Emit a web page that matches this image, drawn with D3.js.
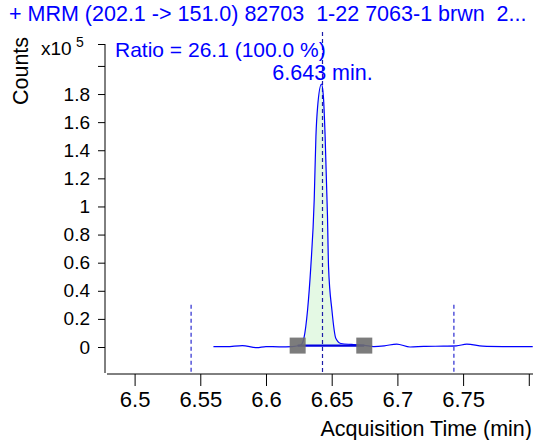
<!DOCTYPE html>
<html>
<head>
<meta charset="utf-8">
<script src="https://cdn.jsdelivr.net/npm/d3@7"></script>
<style>
  body { margin: 0; background: #fff; }
  text { font-family: "Liberation Sans", Arial, sans-serif; }
</style>
</head>
<body>
<div id="chart"></div>
<script>
// signal, counts in units of 1e5
var times  = [6.560, 6.570, 6.582, 6.593, 6.600, 6.610, 6.620, 6.6265, 6.629, 6.6316, 6.6341, 6.6367, 6.638, 6.6392,
              6.6422, 6.6437, 6.645, 6.6468, 6.6476, 6.6502, 6.6532, 6.657, 6.665, 6.675, 6.682, 6.690, 6.6995, 6.7096,
              6.720, 6.735, 6.745, 6.7528, 6.765, 6.780, 6.803];
var counts = [0.003, 0.002, 0.010, -0.005, 0.003, 0.001, 0.003, 0.014, 0.07, 0.26, 0.57, 1.05, 1.50, 1.70,
              1.87, 1.78, 1.50, 0.93, 0.57, 0.26, 0.06, 0.025, 0.018, 0.012, 0.003, 0.008, 0.021, 0.000,
              0.004, 0.006, 0.008, 0.020, 0.006, 0.003, 0.002];
var integStart = [6.6241, 0.010];
var integEnd   = [6.6748, 0.010];
var peakRT = 6.643;
var windowMarks = [6.543, 6.743];
var xTicks = [6.5, 6.55, 6.6, 6.65, 6.7, 6.75, 6.8];
var yTicks = [0, 0.2, 0.4, 0.6, 0.8, 1, 1.2, 1.4, 1.6, 1.8, 2.0];
var yLabelled = [0, 0.2, 0.4, 0.6, 0.8, 1, 1.2, 1.4, 1.6, 1.8];

var W = 533, H = 440;
var svg = d3.select("#chart").append("svg")
    .attr("width", W).attr("height", H);

var x = d3.scaleLinear().domain([6.479, 6.8032]).range([107, 533]);
var y = d3.scaleLinear().domain([-0.185, 2.156]).range([373, 44]);

var data = times.map(function(t, i) { return {t: t, v: counts[i]}; });

// integration fill
function baseAt(t) {
  return integStart[1] + (integEnd[1] - integStart[1]) * (t - integStart[0]) / (integEnd[0] - integStart[0]);
}
var fillData = data.filter(function(d) { return d.t >= 6.6265 && d.t <= 6.657; });
svg.append("path")
    .datum(fillData)
    .attr("fill", "#e4f9e4")
    .attr("d", d3.area()
      .curve(d3.curveMonotoneX)
      .x(function(d) { return x(d.t); })
      .y0(function(d) { return y(baseAt(d.t)); })
      .y1(function(d) { return y(d.v); }));

// dashed markers
svg.selectAll(".win").data(windowMarks).enter().append("line")
    .attr("x1", function(d) { return x(d); }).attr("x2", function(d) { return x(d); })
    .attr("y1", y(0.3)).attr("y2", 372)
    .attr("stroke", "#2a2ad0").attr("stroke-width", 1.2).attr("stroke-dasharray", "4,3");

svg.append("line")
    .attr("x1", x(peakRT)).attr("x2", x(peakRT))
    .attr("y1", 32).attr("y2", 372)
    .attr("stroke", "#1c1ca8").attr("stroke-width", 1.2).attr("stroke-dasharray", "4,3");

// signal
svg.append("path")
    .datum(data)
    .attr("fill", "none")
    .attr("stroke", "#0000ff")
    .attr("stroke-width", 1.2)
    .attr("d", d3.line()
      .curve(d3.curveMonotoneX)
      .x(function(d) { return x(d.t); })
      .y(function(d) { return y(d.v); }));

// integration baseline
svg.append("line")
    .attr("x1", x(integStart[0])).attr("y1", y(integStart[1]))
    .attr("x2", x(integEnd[0])).attr("y2", y(integEnd[1]))
    .attr("stroke", "#0000e0").attr("stroke-width", 2.2);

// end markers
svg.selectAll(".sq").data([integStart, integEnd]).enter().append("rect")
    .attr("x", function(d) { return x(d[0]) - 8; })
    .attr("y", function(d) { return y(d[1]) - 8; })
    .attr("width", 16).attr("height", 16)
    .attr("fill", "#6e6e6e").attr("opacity", 0.9);

// axes
var gx = svg.append("g").attr("transform", "translate(0,374)")
    .call(d3.axisBottom(x).tickValues(xTicks).tickSize(12).tickPadding(5)
      .tickFormat(function(d) { return d === 6.8 ? "" : d3.format("")(d); }));
gx.select(".domain").attr("d", "M107,0H533");
gx.selectAll(".tick text").attr("font-size", 22);

var gy = svg.append("g").attr("transform", "translate(105,0)")
    .call(d3.axisLeft(y).tickValues(yTicks).tickSize(7).tickPadding(8)
      .tickFormat(function(d) { return yLabelled.indexOf(d) >= 0 ? d3.format("")(d) : ""; }));
gy.select(".domain").attr("d", "M0,44V373");
gy.append("line").attr("x1", -7).attr("x2", 0).attr("y1", 44.5).attr("y2", 44.5).attr("stroke", "#000");
gy.selectAll(".tick text").attr("font-size", 19);

svg.selectAll(".tick text").attr("fill", "#000")
    .attr("font-family", "'Liberation Sans', Arial, sans-serif");
svg.selectAll(".tick line, .domain").attr("stroke", "#000");

// text
svg.append("text").attr("x", 9).attr("y", 21).attr("font-size", 21.5).attr("fill", "#0000ff")
    .attr("xml:space", "preserve")
    .text("+ MRM (202.1 -> 151.0) 82703  1-22 7063-1 brwn  2...");

svg.append("text").attr("transform", "translate(28,71) rotate(-90)")
    .attr("text-anchor", "middle").attr("font-size", 21.5).text("Counts");

svg.append("text").attr("x", 41).attr("y", 55).attr("font-size", 19).text("x10");
svg.append("text").attr("x", 76).attr("y", 47).attr("font-size", 14).text("5");

svg.append("text").attr("x", 115).attr("y", 57).attr("font-size", 21).attr("fill", "#0000ff")
    .text("Ratio = 26.1 (100.0 %)");

svg.append("text").attr("x", x(peakRT)).attr("y", 80).attr("text-anchor", "middle")
    .attr("font-size", 21.5).attr("fill", "#0000ff").text("6.643 min.");

svg.append("text").attr("x", 532).attr("y", 436).attr("text-anchor", "end")
    .attr("font-size", 21.5).text("Acquisition Time (min)");
</script>
</body>
</html>
